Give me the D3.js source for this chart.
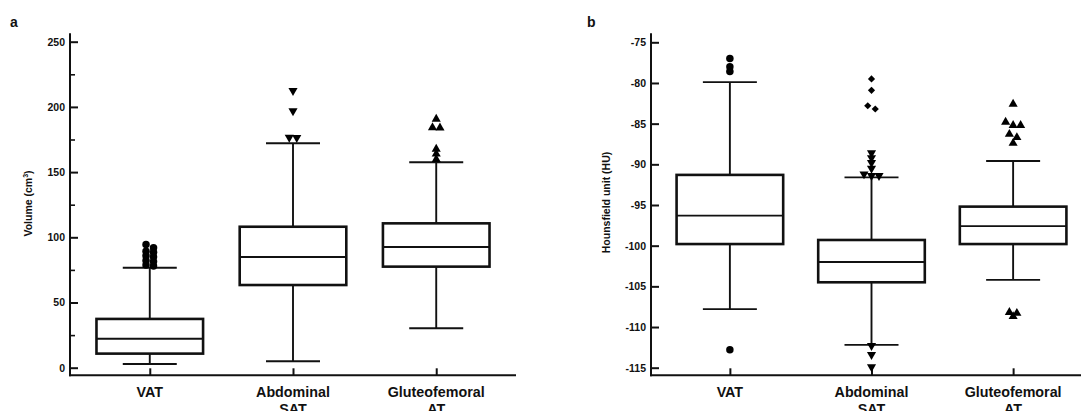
<!DOCTYPE html>
<html>
<head>
<meta charset="utf-8">
<script src="https://cdnjs.cloudflare.com/ajax/libs/d3/7.8.5/d3.min.js"></script>
<style>
  body { margin: 0; background: #fff; }
  svg text { font-family: Arial, "Liberation Sans", sans-serif; font-weight: bold; fill: #111; }
</style>
</head>
<body>
<svg id="chart" width="1081" height="411"></svg>
<script>
// categories shared by both panels
var categories = ["VAT", "Abdominal SAT", "Gluteofemoral AT"];

// panel a : volume (cm3)
var volTicks = [0, 50, 100, 150, 200, 250];
var volMinorTicks = [25, 75, 125, 175, 225];
var volLow = [2.8, 4.9, 30.2];
var volQ1 = [10.8, 63.4, 77.5];
var volMedian = [22.2, 84.9, 92.6];
var volQ3 = [37.4, 108.1, 110.7];
var volHigh = [76.7, 172.1, 157.5];
var volOutliers = [
  [78, 78.8, 81.5, 82.3, 85, 85.8, 88.5, 89.3, 92, 94.5],
  [176.4, 176.6, 196.9, 212.4],
  [159.8, 163.9, 167.7, 184, 184.2, 190.7]
];

// panel b : Hounsfield unit
var huTicks = [-115, -110, -105, -100, -95, -90, -85, -80, -75];
var huLow = [-107.8, -112.2, -104.2];
var huQ1 = [-99.8, -104.5, -99.8];
var huMedian = [-96.3, -102.0, -97.6];
var huQ3 = [-91.3, -99.3, -95.2];
var huHigh = [-79.9, -91.6, -89.6];
var huOutliers = [
  [-77.0, -78.0, -78.6, -112.8],
  [-79.5, -80.9, -82.8, -83.2, -88.6, -89.2, -89.8, -90.5, -91.2, -91.4, -91.4, -112.3, -113.4, -114.9],
  [-82.6, -84.8, -85.2, -85.2, -86.3, -86.7, -87.4, -108.2, -108.3, -108.7]
];

var svg = d3.select("#chart");

var panels = [
  {
    letter: "a", letterX: 10, left: 70, right: 516, rangeEnd: 516, top: 41.7,
    domain: [0, 250], ticks: volTicks, minor: volMinorTicks,
    low: volLow, q1: volQ1, med: volMedian, q3: volQ3, high: volHigh, out: volOutliers,
    shapes: [function () { return "circle"; }, function () { return "down"; }, function () { return "up"; }],
    labelX: 28.5
  },
  {
    letter: "b", letterX: 587, left: 651, right: 1081, rangeEnd: 1092, top: 42.3,
    domain: [-115, -75], ticks: huTicks, minor: [],
    low: huLow, q1: huQ1, med: huMedian, q3: huQ3, high: huHigh, out: huOutliers,
    shapes: [function () { return "circle"; },
             function (v) { return v > -86 ? "diamond" : "down"; },
             function () { return "up"; }],
    labelX: 606
  }
];

var symbols = {
  circle: { path: d3.symbol(d3.symbolCircle, 44)(), rot: 0 },
  up: { path: d3.symbol(d3.symbolTriangle, 36)(), rot: 0 },
  down: { path: d3.symbol(d3.symbolTriangle, 36)(), rot: 180 },
  diamond: { path: d3.symbol(d3.symbolSquare, 26)(), rot: 45 }
};

function drawPanel(p) {
  var g = svg.append("g");
  var y = d3.scaleLinear().domain(p.domain).range([367.7, p.top]);
  var x = d3.scalePoint().domain(categories).range([p.left, p.rangeEnd]).padding(0.557);
  var baseY = 375.3;

  // panel letter
  g.append("text").attr("x", p.letterX).attr("y", 26.5)
    .style("font-size", "14px").text(p.letter);

  // y axis
  var yAxis = d3.axisLeft(y).tickValues(p.ticks).tickSizeInner(-8).tickSizeOuter(0)
    .tickPadding(5).tickFormat(function (d) { return String(d); });
  var ya = g.append("g").attr("transform", "translate(" + p.left + ",0)").call(yAxis);
  ya.select(".domain").remove();
  ya.selectAll("line").attr("stroke", "#111").attr("stroke-width", 2);
  ya.selectAll("text").style("font-size", "10.5px").attr("fill", "#111");

  if (p.minor.length) {
    var ym = g.append("g").attr("transform", "translate(" + p.left + ",0)")
      .call(d3.axisLeft(y).tickValues(p.minor).tickSizeInner(-5).tickSizeOuter(0).tickFormat(""));
    ym.select(".domain").remove();
    ym.selectAll("line").attr("stroke", "#111").attr("stroke-width", 1.6);
  }

  g.append("line").attr("x1", p.left).attr("x2", p.left).attr("y1", 33.3).attr("y2", baseY + 1)
    .attr("stroke", "#111").attr("stroke-width", 2);

  // x axis
  var xa = g.append("g").attr("transform", "translate(0," + baseY + ")")
    .call(d3.axisBottom(x).tickSizeInner(-7).tickSizeOuter(0).tickFormat(""));
  xa.select(".domain").remove();
  xa.selectAll("line").attr("stroke", "#111").attr("stroke-width", 2);
  g.append("line").attr("x1", p.left - 1).attr("x2", p.right).attr("y1", baseY).attr("y2", baseY)
    .attr("stroke", "#111").attr("stroke-width", 2);

  // category labels
  categories.forEach(function (c) {
    var words = c.split(" ");
    var t = g.append("text").attr("text-anchor", "middle").style("font-size", "14.3px");
    words.forEach(function (w, i) {
      t.append("tspan").attr("x", x(c)).attr("y", 396.5 + i * 17.5).text(w);
    });
  });

  // boxes
  var half = 53.3, cap = 27;
  categories.forEach(function (c, i) {
    var cx = x(c);
    var b = g.append("g").attr("stroke", "#111").attr("fill", "none");
    b.append("line").attr("x1", cx).attr("x2", cx).attr("y1", y(p.high[i])).attr("y2", y(p.q3[i]))
      .attr("stroke-width", 1.9);
    b.append("line").attr("x1", cx).attr("x2", cx).attr("y1", y(p.q1[i])).attr("y2", y(p.low[i]))
      .attr("stroke-width", 1.9);
    b.append("line").attr("x1", cx - cap).attr("x2", cx + cap).attr("y1", y(p.high[i])).attr("y2", y(p.high[i]))
      .attr("stroke-width", 1.9);
    b.append("line").attr("x1", cx - cap).attr("x2", cx + cap).attr("y1", y(p.low[i])).attr("y2", y(p.low[i]))
      .attr("stroke-width", 1.9);
    b.append("rect").attr("x", cx - half).attr("width", half * 2)
      .attr("y", y(p.q3[i])).attr("height", y(p.q1[i]) - y(p.q3[i]))
      .attr("fill", "#fff").attr("stroke-width", 2.6);
    b.append("line").attr("x1", cx - half).attr("x2", cx + half).attr("y1", y(p.med[i])).attr("y2", y(p.med[i]))
      .attr("stroke-width", 1.9);

    // outliers: points sitting on (almost) the same height are spread sideways
    var pts = p.out[i].map(function (v) { return { v: v, py: y(v), shape: p.shapes[i](v) }; })
      .sort(function (a, b2) { return a.py - b2.py; });
    var groups = [];
    pts.forEach(function (d) {
      var last = groups[groups.length - 1];
      if (last && d.py - last[0].py < 4) last.push(d); else groups.push([d]);
    });
    groups.forEach(function (grp) {
      grp.forEach(function (d, k) { d.px = cx + (k - (grp.length - 1) / 2) * 7.5; });
    });
    g.selectAll(null).data(pts).enter().append("path")
      .attr("d", function (d) { return symbols[d.shape].path; })
      .attr("transform", function (d) {
        return "translate(" + d.px + "," + d.py + ") rotate(" + symbols[d.shape].rot + ")";
      })
      .attr("fill", "#000");
  });
}

panels.forEach(drawPanel);

// axis titles
var ta = svg.append("text").attr("text-anchor", "middle")
  .attr("transform", "translate(28.5,203.5) rotate(-90)").attr("dy", "0.35em")
  .style("font-size", "10.5px");
ta.append("tspan").text("Volume (cm");
ta.append("tspan").attr("dy", "-4").style("font-size", "7px").text("3");
ta.append("tspan").attr("dy", "4").text(")");

svg.append("text").attr("text-anchor", "middle")
  .attr("transform", "translate(606,202.5) rotate(-90)").attr("dy", "0.35em")
  .style("font-size", "10.5px").text("Hounsfield unit (HU)");
</script>
</body>
</html>
